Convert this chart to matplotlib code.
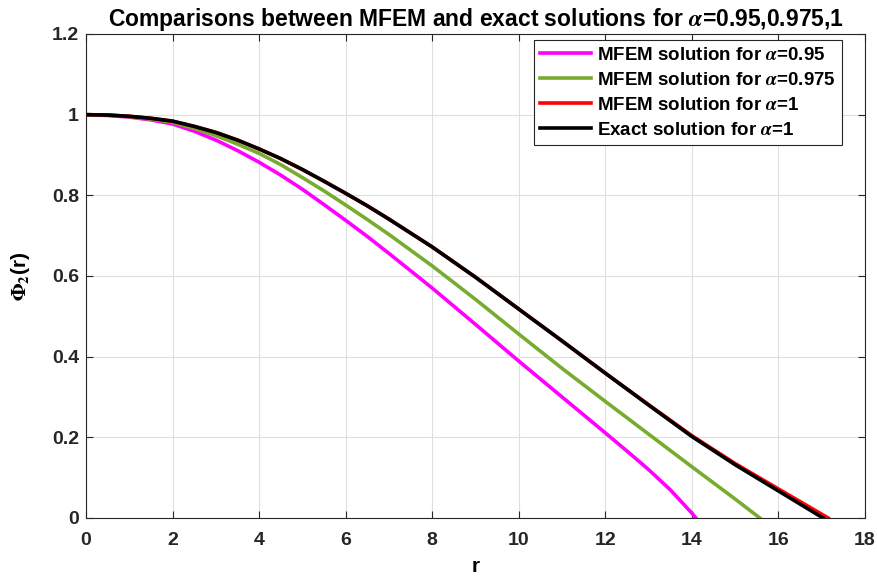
import matplotlib
matplotlib.use("Agg")
import matplotlib.pyplot as plt
from matplotlib.ticker import FuncFormatter

# values
r_head = [0, 0.5, 1, 1.5, 2, 2.5, 3, 3.5, 4, 4.5, 5, 5.5, 6, 6.5, 7]

r_095 = r_head + [8, 9, 10, 11, 12, 12.5, 13, 13.5, 14, 14.09]
phi_095 = [1.000, 0.998, 0.994, 0.987, 0.977, 0.959, 0.937, 0.911, 0.882,
           0.850, 0.815, 0.777, 0.738, 0.698, 0.656,
           0.570, 0.480, 0.389, 0.300, 0.211, 0.166, 0.120, 0.070, 0.012, 0.0]

r_0975 = r_head + [8, 9, 10, 11, 12, 13, 14, 15, 15.57]
phi_0975 = [1.000, 0.999, 0.995, 0.989, 0.981, 0.966, 0.948, 0.927, 0.904,
            0.876, 0.844, 0.811, 0.776, 0.740, 0.703,
            0.625, 0.542, 0.456, 0.371, 0.289, 0.208, 0.127, 0.047, 0.0]

r_1 = r_head + [8, 9, 10, 11, 12, 13, 14, 15, 16, 17.15]
phi_1 = [1.000, 0.999, 0.996, 0.991, 0.984, 0.971, 0.956, 0.937, 0.915,
         0.891, 0.864, 0.835, 0.805, 0.774, 0.741,
         0.672, 0.597, 0.518, 0.439, 0.359, 0.281, 0.204, 0.135, 0.072, 0.0]

r_exact = r_head + [8, 9, 10, 11, 12, 13, 14, 15, 16, 17.03]
phi_exact = [1.000, 0.999, 0.996, 0.991, 0.984, 0.971, 0.956, 0.937, 0.915,
             0.891, 0.864, 0.835, 0.805, 0.774, 0.741,
             0.672, 0.597, 0.518, 0.439, 0.359, 0.280, 0.202, 0.132, 0.067, 0.0]

plt.rcParams["font.family"] = ["Liberation Sans", "DejaVu Sans"]
plt.rcParams["font.weight"] = "bold"
plt.rcParams["mathtext.fontset"] = "stix"

W, H = 877, 580
fig = plt.figure(figsize=(W / 100, H / 100), dpi=100)
ax = fig.add_axes([86 / W, 1 - 518 / H, (865 - 86) / W, (518 - 34) / H])

lw = 2.6
ax.plot(r_095, phi_095, color="#FF00FF", lw=lw, label=r"MFEM solution for $\alpha$=0.95")
ax.plot(r_0975, phi_0975, color="#77AC30", lw=lw, label=r"MFEM solution for $\alpha$=0.975")
ax.plot(r_1, phi_1, color="#FF0000", lw=lw, label=r"MFEM solution for $\alpha$=1")
ax.plot(r_exact, phi_exact, color="black", lw=lw, label=r"Exact solution for $\alpha$=1")

ax.set_xlim(0, 18)
ax.set_ylim(0, 1.2)
ax.set_xticks(range(0, 19, 2))
ax.set_yticks([0, 0.2, 0.4, 0.6, 0.8, 1.0, 1.2])
ax.yaxis.set_major_formatter(FuncFormatter(lambda v, p: f"{v:g}"))
ax.tick_params(direction="in", top=True, right=True, length=5, width=0.8,
               labelsize=14, colors="#262626")
ax.tick_params(axis="x", pad=10)
ax.tick_params(axis="y", pad=5)
for lab in ax.get_xticklabels() + ax.get_yticklabels():
    lab.set_fontweight("bold")
for s in ax.spines.values():
    s.set_color("#262626")
    s.set_linewidth(0.8)
ax.grid(True, color="#dfdfdf", lw=0.8)
ax.set_axisbelow(True)

ax.set_xlabel("r", fontsize=15, fontweight="bold", labelpad=6)
ax.set_ylabel(r"$\mathbf{\Phi_2}$(r)", fontsize=15, fontweight="bold", labelpad=14)
ax.set_title(r"Comparisons between MFEM and exact solutions for $\alpha$=0.95,0.975,1",
             fontsize=16.5, fontweight="bold", pad=6)

leg = ax.legend(loc="upper right", bbox_to_anchor=(842 / W, 1 - 40 / H),
                bbox_transform=fig.transFigure, fontsize=13.5, frameon=True,
                fancybox=False, framealpha=1, edgecolor="#262626",
                handlelength=2.7, borderaxespad=0, labelspacing=0.42,
                handletextpad=0.3, borderpad=0.35)
leg.get_frame().set_linewidth(0.8)
for t in leg.get_texts():
    t.set_fontweight("bold")

fig.savefig("out.png", dpi=100)
